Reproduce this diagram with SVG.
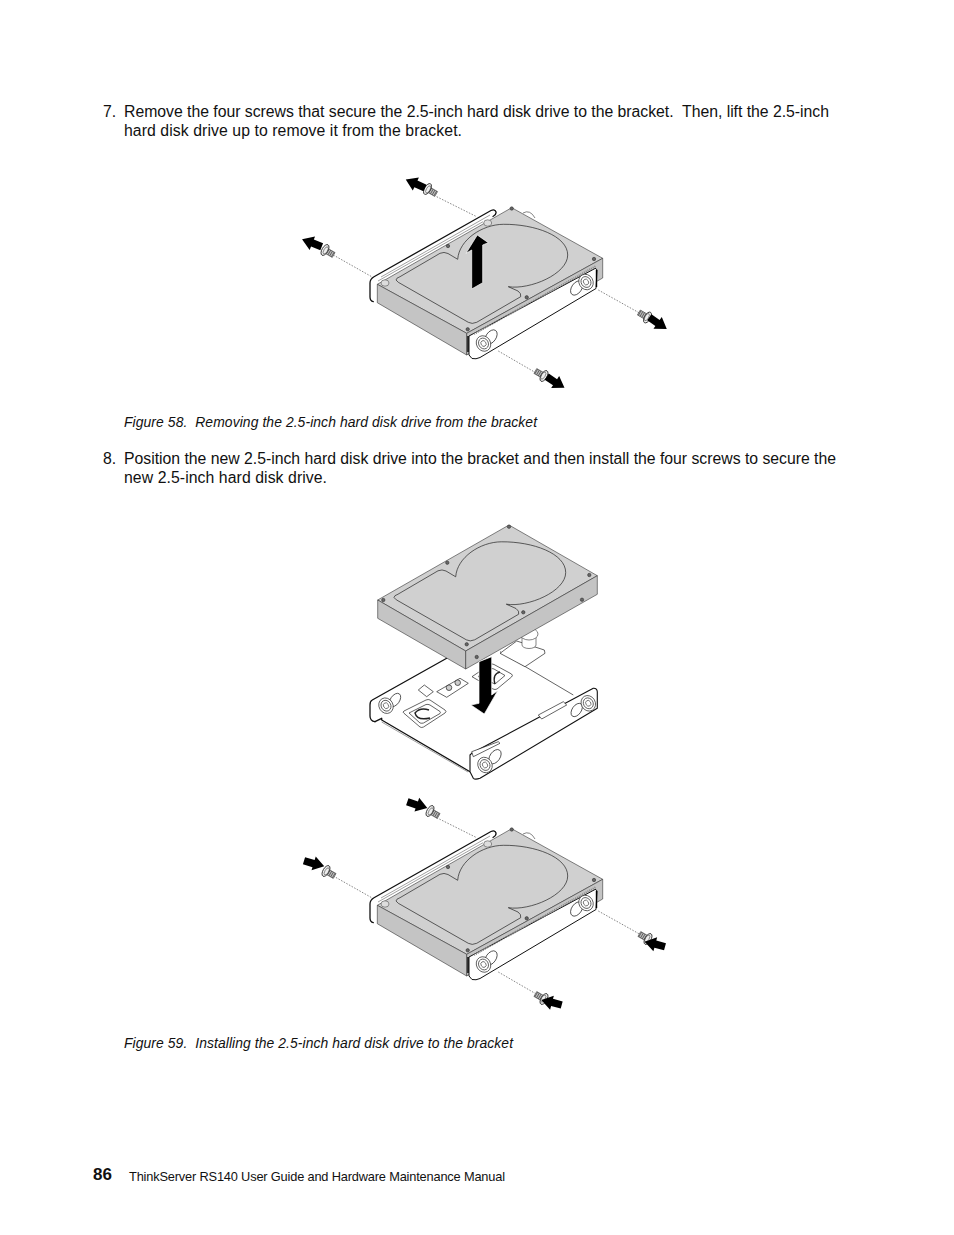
<svg xmlns="http://www.w3.org/2000/svg" xmlns:xlink="http://www.w3.org/1999/xlink" width="954" height="1235" viewBox="0 0 954 1235">
<style>
text{font-family:"Liberation Sans",Arial,sans-serif;fill:#111;white-space:pre}
.b{font-size:15.800px}.c{font-size:13.900px;font-style:italic}.f{font-size:12.800px}
.l{fill:none;stroke:#222;stroke-width:.7}
.k{stroke:#333;stroke-width:.6;stroke-linejoin:round}
.top{fill:#d0d0d0}.side{fill:#c4c4c4}.w{fill:#fff}
.d{fill:none;stroke:#666;stroke-width:.8;stroke-dasharray:1.500 1.500}
.g{fill:none;stroke:#777;stroke-width:.7}
.t{fill:none;stroke:#111;stroke-width:1.300;stroke-linecap:round;stroke-linejoin:round}
.p{fill:#fff;stroke:#222;stroke-width:.7;stroke-linejoin:round}
.c1{fill:none;stroke:#222;stroke-width:1.400}
</style>
<defs>
<path id="ar" d="M0,-3.700 L10,-3.700 L10,-7.500 L21,-0.500 L10,7 L10,3.700 L0,3.700Z" fill="#000"/>
<g id="screw">
<rect x="1" y="-2.800" width="9" height="5.600" fill="#bbb" stroke="#444" stroke-width=".6"/>
<path d="M3,-2.800V2.800M5,-2.800V2.800M7,-2.800V2.800M9,-2.800V2.800" stroke="#444" stroke-width=".7"/>
<ellipse cx="0" cy="0" rx="3" ry="6" fill="#eee" stroke="#222" stroke-width=".8"/>
<ellipse cx="0.800" cy="0" rx="1.800" ry="4" fill="none" stroke="#555" stroke-width=".6"/>
</g>
<path id="platter" class="l" d="M396,280Q396,278 400,276.700L440,253.300Q444,251.500 448,253.500L457.700,259.300C459,240 482,224.500 503.300,224.300C535,224 567.700,236 567.700,255C567.700,274 530,290 508.300,286.700L518,291Q521.500,293.500 520.700,296.700L476.700,322.300Q472,324.500 468.300,322.300L398.300,282.300Z"/>
<g id="hole"><circle r="1.700" fill="#666" stroke="#222" stroke-width=".5"/></g>
<g id="boss">
<ellipse cx="0" cy="0" rx="7" ry="8" fill="#fff" stroke="#333" stroke-width=".7" transform="rotate(-30)"/>
<ellipse cx="0" cy="0" rx="4.800" ry="5.600" fill="none" stroke="#333" stroke-width=".7" transform="rotate(-30)"/>
<ellipse cx="0" cy="0" rx="2.500" ry="3" fill="none" stroke="#333" stroke-width=".6" transform="rotate(-30)"/>
</g>
<g id="drive">
<path class="k" fill="#fff" d="M523,213Q530,209 535,218"/>
<path d="M370,298V283Q370,279 374,276.700L491,210.500Q495,208.800 496,212Q496.500,214.500 493,216.500L380,282L376,300Q373,302.500 370,298Z" fill="#fff"/>
<path class="t" d="M373.300,301.700Q370,301 370,297V283Q370,279 374,276.700L491,210.500Q495,208.800 496,212Q496.500,214.500 493,216.500"/>
<path class="g" d="M378,281L483,221.700M381,277L490,215"/>
<polygon class="top k" points="511.700,207.700 602.700,258.300 466.700,333.300 377.300,284.300"/>
<polygon class="side k" points="377.300,284.300 466.700,333.300 466.700,355 377.300,302.700"/>
<polygon class="side k" points="466.700,333.300 602.700,258.300 602.700,278 466.700,355"/>
<use href="#platter" xlink:href="#platter"/>
<use href="#hole" xlink:href="#hole" x="511.700" y="208.500"/>
<use href="#hole" xlink:href="#hole" x="594" y="259"/>
<use href="#hole" xlink:href="#hole" x="526.700" y="297.300"/>
<use href="#hole" xlink:href="#hole" x="467.700" y="329.300"/>
<use href="#hole" xlink:href="#hole" x="448" y="246"/>
<ellipse cx="487.700" cy="223" rx="4" ry="3.200" fill="#ddd" stroke="#666" stroke-width=".7"/>
<ellipse cx="385" cy="283" rx="4" ry="3.200" fill="#ddd" stroke="#666" stroke-width=".7"/>
<path d="M469,336L595,268.500Q596,268 597,270L596,288.500L480,357.500Q476,359.500 472,358.500L469,355Z" class="w" stroke="#111" stroke-width="1"/>
<path d="M468,336V352M596.500,270V287" stroke="#000" stroke-width="1.400" fill="none"/>
<path d="M474,334L596,266" stroke="#888" stroke-width="2" stroke-dasharray="1 1" fill="none"/>
<ellipse cx="491" cy="337" rx="5" ry="8" fill="#fff" stroke="#222" stroke-width=".7" transform="rotate(35 491 337)"/>
<use href="#boss" xlink:href="#boss" x="483.500" y="343.500"/>
<ellipse cx="576.700" cy="288" rx="5" ry="8" fill="#fff" stroke="#222" stroke-width=".7" transform="rotate(35 576.700 288)"/>
<use href="#boss" xlink:href="#boss" x="586" y="282"/>
</g>
</defs>
<g id="step7">
<text class="b" x="103" y="117">7.</text>
<text class="b" x="124" y="117" textLength="705" lengthAdjust="spacing">Remove the four screws that secure the 2.5-inch hard disk drive to the bracket.  Then, lift the 2.5-inch</text>
<text class="b" x="124" y="136" textLength="338" lengthAdjust="spacing">hard disk drive up to remove it from the bracket.</text>
</g>
<g id="figure58">
<use href="#drive" xlink:href="#drive"/>
<g id="connectors58">
<path class="d" d="M436.700,196.700L476.700,216.700M333.300,255L371.700,276.700M598.300,290L640,313.300M498.300,351L535,372.300"/>
</g>
<use href="#screw" xlink:href="#screw" transform="translate(427.500,189) rotate(30)"/>
<use href="#screw" xlink:href="#screw" transform="translate(325,250) rotate(30)"/>
<use href="#screw" xlink:href="#screw" transform="translate(647.500,317.500) rotate(210)"/>
<use href="#screw" xlink:href="#screw" transform="translate(544,376) rotate(210)"/>
<use href="#ar" xlink:href="#ar" transform="translate(425,188) rotate(205)"/>
<use href="#ar" xlink:href="#ar" transform="translate(321.700,246.700) rotate(202)"/>
<use href="#ar" xlink:href="#ar" transform="translate(649.300,317.300) rotate(35)"/>
<use href="#ar" xlink:href="#ar" transform="translate(546.700,376.700) rotate(33.500)"/>
<polygon fill="#000" stroke="#fff" stroke-width=".7" points="477.300,235 488.300,242.700 482.700,245 482.700,282.700 471.700,289 471.700,250 466,253.300"/>
<text class="c" x="124" y="427" textLength="413" lengthAdjust="spacing">Figure 58.  Removing the 2.5-inch hard disk drive from the bracket</text>
</g>
<g id="step8">
<text class="b" x="103" y="464">8.</text>
<text class="b" x="124" y="464" textLength="712" lengthAdjust="spacing">Position the new 2.5-inch hard disk drive into the bracket and then install the four screws to secure the</text>
<text class="b" x="124" y="483" textLength="203" lengthAdjust="spacing">new 2.5-inch hard disk drive.</text>
</g>
<g id="figure59a">
<path class="t" d="M375,721.700Q370,721 370,716V705Q370,701 372.300,700L446.700,658.300"/>
<path class="t" d="M375,721.700L381.700,718.300L381.700,720L470,771.700"/>
<path class="g" d="M381.700,722L468,772"/>
<path class="l" d="M500,651.700L573.300,695"/>
<path class="p" d="M516.700,641L544.300,650L545,653.300L525,666.700L500,653.300Z"/>
<path d="M404,713.300Q402,712 404,711L426,700Q428.300,699 430,700L445,710Q447,711.700 445,713L423.500,727Q421.700,728 420,727Z" fill="#fff" stroke="#222" stroke-width=".7"/>
<path d="M409,713L426,704.500Q428,704 430,705L440,711.500Q441,713 440,713.500L423.500,723Q422,723.500 420,723Z" fill="#fff" stroke="#222" stroke-width=".7"/>
<path class="c1" d="M429,710Q420,707 415,713Q417,721 430,718"/>
<path d="M472,676.700L490,664.500Q491.700,663.300 494,664.500L511.500,674Q513.300,675.500 511.500,677L497,689Q495,690 493,689Z" fill="#fff" stroke="#222" stroke-width=".7"/>
<path d="M478,676.500L490,669Q492,668 494,669L505,675.500L495,684Z" fill="#fff" stroke="#222" stroke-width=".7"/>
<path class="c1" d="M500,672Q492,674 495,684"/>
<path class="p" d="M418.300,690L424.300,685L433.300,691.700L426.700,696.700Z"/>
<path class="p" d="M436.700,691.700L460,678.300L468.300,683.300L446.700,697.300Z"/>
<circle cx="449" cy="687.700" r="2.800" fill="#ccc" stroke="#222" stroke-width=".7"/>
<circle cx="457.700" cy="682.700" r="2.800" fill="#ccc" stroke="#222" stroke-width=".7"/>
<path class="k" fill="#fff" d="M522,645V637H536V645A7,3.500 0 0 1 522,645Z"/>
<path class="k" fill="#fff" d="M520,634A9,6 0 0 1 538,634A9,6 0 0 1 520,634Z"/>
<polygon class="top k" points="509,525 597.300,575.700 465.700,651 377.700,600"/>
<polygon class="side k" points="377.700,600 465.700,651 465.700,669 377.700,618.300"/>
<polygon class="side k" points="465.700,651 597.300,575.700 597.300,594.300 465.700,669"/>
<use href="#platter" xlink:href="#platter" transform="translate(-2,317.500)"/>
<use href="#hole" xlink:href="#hole" x="509" y="526.700"/>
<use href="#hole" xlink:href="#hole" x="589.300" y="575"/>
<use href="#hole" xlink:href="#hole" x="523.300" y="612.300"/>
<use href="#hole" xlink:href="#hole" x="466.700" y="644.300"/>
<use href="#hole" xlink:href="#hole" x="447.300" y="562.700"/>
<use href="#hole" xlink:href="#hole" x="383.300" y="600"/>
<use href="#hole" xlink:href="#hole" x="476.700" y="657"/>
<use href="#hole" xlink:href="#hole" x="582" y="599.700"/>
<path class="w" stroke="#111" stroke-width="1.100" stroke-linejoin="round" d="M470,771.700V755L471.700,753.300L593.300,688.300Q597,688 597.300,691.700V708.300L480,778.300Q475,780 473.300,778.300Z"/>
<path class="p" d="M471.700,751.700L498.300,741.700L500,743.300L473.300,756.700Z"/>
<path class="p" d="M538.300,715L563.300,701.700L566.700,705L541.700,719Z"/>
<ellipse cx="495" cy="756.700" rx="5" ry="8" fill="#fff" stroke="#222" stroke-width=".7" transform="rotate(35 495 756.700)"/>
<use href="#boss" xlink:href="#boss" x="485" y="765"/>
<ellipse cx="576.700" cy="710" rx="4.500" ry="7.500" fill="#fff" stroke="#222" stroke-width=".7" transform="rotate(35 576.700 710)"/>
<use href="#boss" xlink:href="#boss" x="588.300" y="703.300"/>
<ellipse cx="395" cy="700" rx="4.500" ry="7.500" fill="#fff" stroke="#222" stroke-width=".7" transform="rotate(35 395 700)"/>
<use href="#boss" xlink:href="#boss" x="386" y="705.700"/>
<polygon fill="#000" stroke="#fff" stroke-width=".7" points="479,661.700 491.700,656.700 491.700,695 497.700,690.700 484.300,714 471,705 479,703.300"/>
</g>
<g id="figure59b" transform="translate(0,621)">
<use href="#drive" xlink:href="#drive"/>
<g id="connectors59">
<path class="d" d="M436.700,196.700L476.700,216.700M333.300,255L371.700,276.700M598.300,290L640,313.300M498.300,351L535,372.300"/>
</g>
<use href="#screw" xlink:href="#screw" transform="translate(430,190) rotate(30)"/>
<use href="#screw" xlink:href="#screw" transform="translate(326,250) rotate(30)"/>
<use href="#screw" xlink:href="#screw" transform="translate(648,318) rotate(210)"/>
<use href="#screw" xlink:href="#screw" transform="translate(544,378) rotate(210)"/>
<use href="#ar" xlink:href="#ar" transform="translate(407.300,180.700) rotate(19)"/>
<use href="#ar" xlink:href="#ar" transform="translate(304,239.700) rotate(17)"/>
<use href="#ar" xlink:href="#ar" transform="translate(665,325.700) rotate(195)"/>
<use href="#ar" xlink:href="#ar" transform="translate(561.700,384) rotate(195)"/>
</g>
<text class="c" x="124" y="1048" textLength="389" lengthAdjust="spacing">Figure 59.  Installing the 2.5-inch hard disk drive to the bracket</text>
<g id="footer">
<text x="93" y="1180" font-size="17" font-weight="bold">86</text>
<text class="f" x="129" y="1181" textLength="376" lengthAdjust="spacing">ThinkServer RS140 User Guide and Hardware Maintenance Manual</text>
</g>
</svg>
